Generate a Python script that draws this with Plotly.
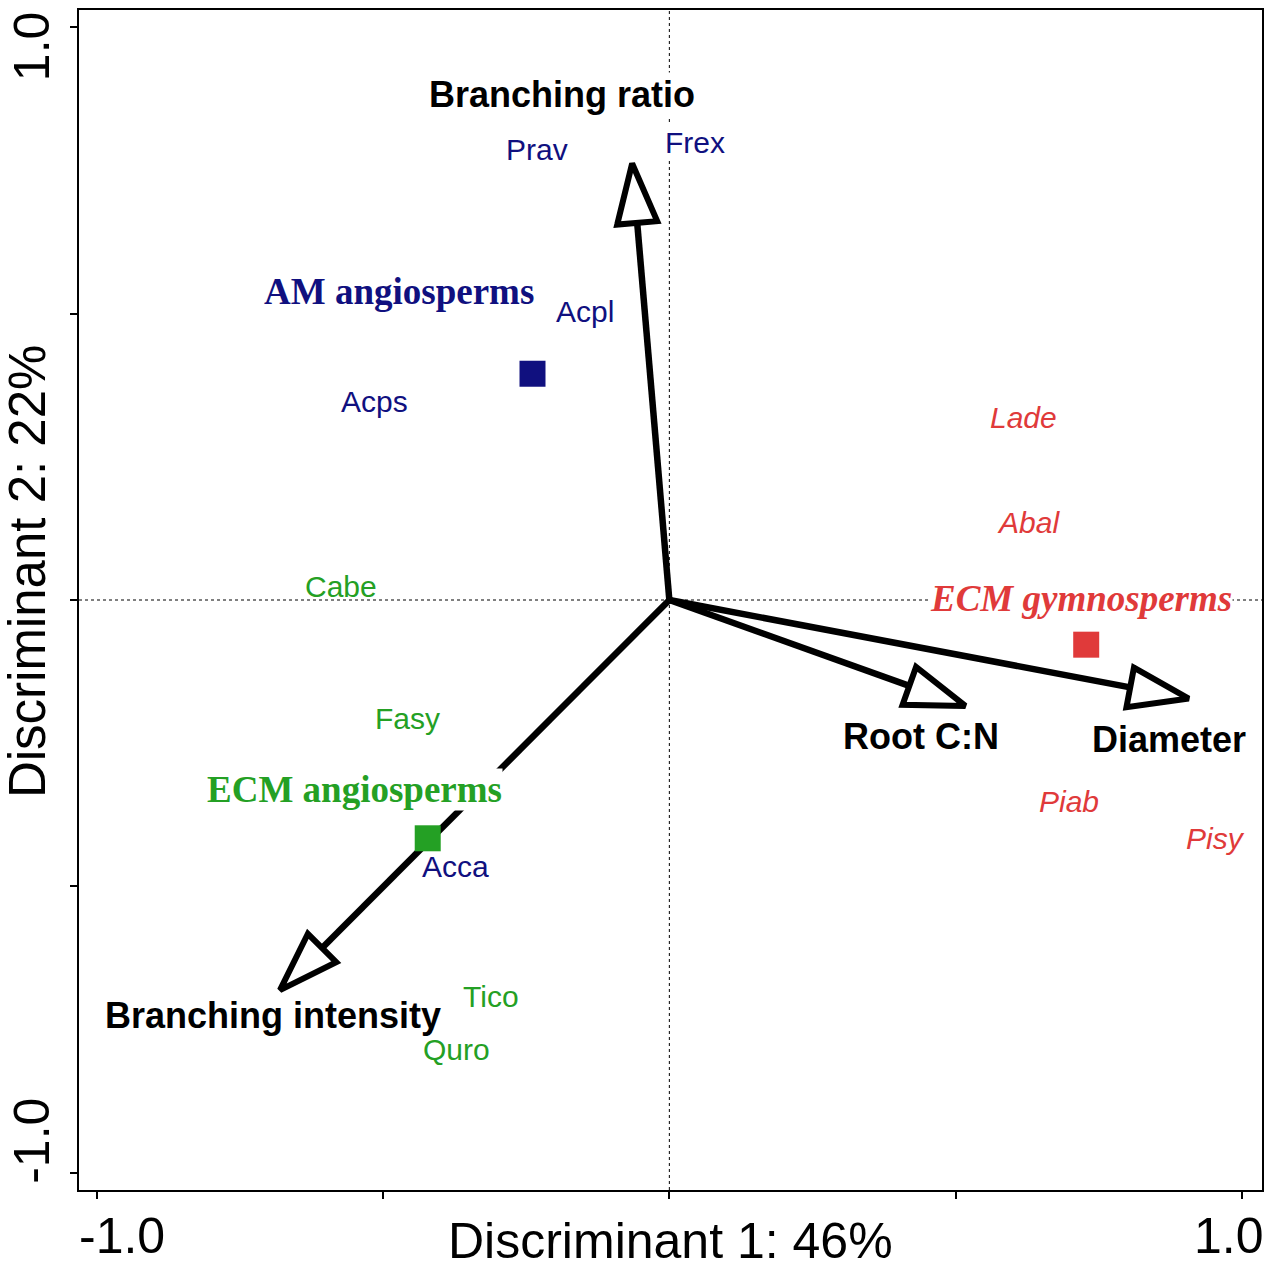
import numpy as np
import plotly.graph_objects as go

# discriminant scores
species = ["Prav", "Frex", "Acpl", "Acps", "Acca",
           "Cabe", "Fasy", "Tico", "Quro",
           "Lade", "Abal", "Piab", "Pisy"]
species_x = [-0.232, 0.045, -0.148, -0.515, -0.373,
             -0.574, -0.457, -0.311, -0.372,
             0.618, 0.627, 0.698, 0.953]
species_y = [0.787, 0.798, 0.503, 0.347, -0.465,
             0.023, -0.206, -0.692, -0.784,
             0.319, 0.136, -0.352, -0.416]
species_group = ["AM", "AM", "AM", "AM", "AM",
                 "ECMa", "ECMa", "ECMa", "ECMa",
                 "ECMg", "ECMg", "ECMg", "ECMg"]

groups = ["AM", "ECMa", "ECMg"]
group_names = ["AM angiosperms", "ECM angiosperms", "ECM gymnosperms"]
centroid_x = [-0.239, -0.422, 0.728]
centroid_y = [0.395, -0.416, -0.078]
group_label_x = [-0.473, -0.550, 0.719]
group_label_y = [0.538, -0.331, 0.003]

traits = ["Branching ratio", "Root C:N", "Diameter", "Branching intensity"]
trait_x = [-0.065, 0.517, 0.907, -0.680]
trait_y = [0.762, -0.185, -0.172, -0.681]
trait_label_x = [-0.188, 0.440, 0.873, -0.693]
trait_label_y = [0.882, -0.239, -0.244, -0.726]

colors = {"AM": "#10107f", "ECMa": "#24a024", "ECMg": "#e03a3a"}
SANS = "Liberation Sans"
SERIF = "Liberation Serif"

fig = go.Figure()

# dotted reference lines through the origin
fig.add_shape(type="line", xref="x", yref="paper", x0=0, x1=0, y0=0, y1=1,
              line=dict(color="black", width=1, dash="dot"), layer="below")
fig.add_shape(type="line", xref="paper", yref="y", x0=0, x1=1, y0=0, y1=0,
              line=dict(color="black", width=1, dash="dot"), layer="below")

# trait arrows with open triangle heads
head_len = 0.104
head_half = 0.035
for tx, ty in zip(trait_x, trait_y):
    u = np.array([tx, ty]) / np.hypot(tx, ty)
    p = np.array([-u[1], u[0]])
    base = np.array([tx, ty]) - head_len * u
    c1 = base + head_half * p
    c2 = base - head_half * p
    fig.add_trace(go.Scatter(x=[0, base[0]], y=[0, base[1]], mode="lines",
                             line=dict(color="black", width=6.5),
                             hoverinfo="skip", showlegend=False))
    fig.add_trace(go.Scatter(x=[tx, c1[0], c2[0], tx, c1[0]],
                             y=[ty, c1[1], c2[1], ty, c1[1]],
                             mode="lines", fill="toself", fillcolor="white",
                             line=dict(color="black", width=6),
                             hoverinfo="skip", showlegend=False))

# group centroids
for g, cx, cy in zip(groups, centroid_x, centroid_y):
    fig.add_trace(go.Scatter(x=[cx], y=[cy], mode="markers",
                             marker=dict(symbol="square", size=26, color=colors[g]),
                             showlegend=False))

annotations = []
for name, x, y, g in zip(species, species_x, species_y, species_group):
    annotations.append(dict(
        x=x, y=y, text=name, showarrow=False,
        font=dict(family=SANS, size=30, color=colors[g],
                  style="italic" if g == "ECMg" else "normal"),
        bgcolor="white" if name == "Frex" else None))

for name, g, x, y in zip(group_names, groups, group_label_x, group_label_y):
    annotations.append(dict(
        x=x, y=y, text=f"<b>{name}</b>", showarrow=False,
        font=dict(family=SERIF, size=37, color=colors[g],
                  style="italic" if g == "ECMg" else "normal"),
        bgcolor="white", borderpad=0))

for name, x, y in zip(traits, trait_label_x, trait_label_y):
    annotations.append(dict(
        x=x, y=y, text=f"<b>{name}</b>", showarrow=False,
        font=dict(family=SANS, size=36, color="black"),
        bgcolor="white" if name == "Branching ratio" else None))

# tick labels (drawn inward of the end ticks, as in the original)
annotations += [
    dict(x=-1.0, xref="x", y=0, yref="paper", text="-1.0", showarrow=False,
         xshift=25, yshift=-46, yanchor="middle", font=dict(family=SANS, size=50)),
    dict(x=1.0, xref="x", y=0, yref="paper", text="1.0", showarrow=False,
         xshift=-13, yshift=-46, yanchor="middle", font=dict(family=SANS, size=50)),
    dict(x=0, xref="paper", y=1.0, yref="y", text="1.0", showarrow=False,
         textangle=-90, xshift=-47, yshift=-19, xanchor="center",
         font=dict(family=SANS, size=50)),
    dict(x=0, xref="paper", y=-1.0, yref="y", text="-1.0", showarrow=False,
         textangle=-90, xshift=-47, yshift=32, xanchor="center",
         font=dict(family=SANS, size=50)),
    dict(x=0.5, xref="paper", y=0, yref="paper", text="Discriminant 1: 46%",
         showarrow=False, yshift=-51, yanchor="middle",
         font=dict(family=SANS, size=50)),
    dict(x=0, xref="paper", y=0.5245, yref="paper", text="Discriminant 2: 22%",
         showarrow=False, textangle=-90, xshift=-52, xanchor="center",
         font=dict(family=SANS, size=51)),
]
for a in annotations:
    a.setdefault("font", {}).setdefault("color", "black")
    if a.get("bgcolor") is None:
        a.pop("bgcolor", None)

axis_style = dict(showgrid=False, zeroline=False, showline=True, mirror=True,
                  linecolor="black", linewidth=2, ticks="outside", ticklen=7,
                  tickwidth=2, tickcolor="black", showticklabels=False,
                  tickvals=[-1, -0.5, 0, 0.5, 1])

fig.update_layout(
    width=1272, height=1269,
    margin=dict(l=79, r=9, t=8, b=79),
    paper_bgcolor="white", plot_bgcolor="white",
    xaxis=dict(range=[-1.031, 1.035], **axis_style),
    yaxis=dict(range=[-1.030, 1.030], **axis_style),
    annotations=annotations,
    showlegend=False,
)

fig.write_html("out.html", config={"displayModeBar": False},
               post_script="document.body.style.margin='0';"
                           "document.body.style.overflow='hidden';")
